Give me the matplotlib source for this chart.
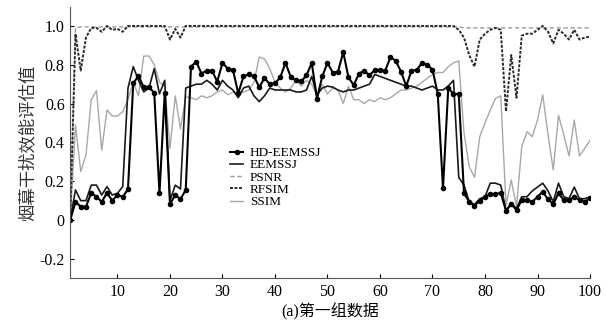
import numpy as np
import matplotlib.pyplot as plt

plt.rcParams['font.family'] = ['Liberation Serif', 'Noto Sans CJK SC']

# 横轴：样本序号 1..100
x = np.arange(1, 101)

hd_eemssj = [
    0.000, 0.094, 0.069, 0.069, 0.140, 0.120, 0.094, 0.140, 0.100, 0.129,
    0.120, 0.158, 0.705, 0.742, 0.684, 0.684, 0.656, 0.138, 0.656, 0.082,
    0.129, 0.108, 0.155, 0.790, 0.816, 0.755, 0.770, 0.770, 0.713, 0.810,
    0.780, 0.773, 0.653, 0.740, 0.750, 0.742, 0.684, 0.732, 0.700, 0.705,
    0.735, 0.810, 0.737, 0.720, 0.715, 0.745, 0.810, 0.625, 0.740, 0.810,
    0.760, 0.765, 0.865, 0.735, 0.695, 0.755, 0.770, 0.745, 0.773, 0.773,
    0.770, 0.840, 0.820, 0.765, 0.690, 0.770, 0.773, 0.810, 0.800, 0.775,
    0.650, 0.163, 0.680, 0.650, 0.650, 0.138, 0.094, 0.074, 0.100, 0.120,
    0.134, 0.134, 0.140, 0.048, 0.082, 0.052, 0.103, 0.103, 0.094, 0.120,
    0.146, 0.107, 0.082, 0.138, 0.103, 0.103, 0.120, 0.103, 0.094, 0.112,
]

eemssj = [
    0.000, 0.155, 0.100, 0.100, 0.180, 0.180, 0.129, 0.172, 0.129, 0.138,
    0.172, 0.680, 0.790, 0.720, 0.660, 0.680, 0.780, 0.650, 0.720, 0.100,
    0.180, 0.160, 0.680, 0.690, 0.700, 0.700, 0.720, 0.700, 0.670, 0.720,
    0.690, 0.670, 0.630, 0.680, 0.690, 0.640, 0.610, 0.640, 0.680, 0.670,
    0.670, 0.670, 0.670, 0.660, 0.660, 0.670, 0.740, 0.645, 0.680, 0.690,
    0.685, 0.670, 0.660, 0.670, 0.670, 0.680, 0.690, 0.700, 0.750, 0.740,
    0.730, 0.720, 0.710, 0.700, 0.690, 0.690, 0.680, 0.670, 0.680, 0.690,
    0.670, 0.670, 0.690, 0.720, 0.220, 0.180, 0.094, 0.080, 0.110, 0.120,
    0.190, 0.190, 0.180, 0.050, 0.085, 0.060, 0.120, 0.120, 0.150, 0.170,
    0.190, 0.150, 0.094, 0.190, 0.120, 0.110, 0.170, 0.110, 0.110, 0.120,
]

psnr = [0.0, 0.99] + [0.995] * 73 + [0.99] * 25

rfsim = [
    0.000, 0.960, 0.770, 0.940, 0.990, 0.990, 0.970, 1.000, 0.980, 0.985,
    0.970, 1.000, 1.000, 1.000, 1.000, 1.000, 1.000, 1.000, 1.000, 0.930,
    0.985, 0.940, 1.000, 1.000, 1.000, 1.000, 1.000, 1.000, 1.000, 1.000,
    1.000, 1.000, 1.000, 1.000, 1.000, 1.000, 1.000, 1.000, 1.000, 1.000,
    1.000, 1.000, 1.000, 1.000, 1.000, 1.000, 1.000, 1.000, 1.000, 1.000,
    1.000, 1.000, 1.000, 1.000, 1.000, 1.000, 1.000, 1.000, 1.000, 1.000,
    1.000, 1.000, 1.000, 1.000, 1.000, 1.000, 1.000, 1.000, 1.000, 1.000,
    1.000, 1.000, 1.000, 1.000, 0.980, 0.940, 0.850, 0.790, 0.930, 0.960,
    0.980, 0.990, 0.980, 0.560, 0.850, 0.630, 0.950, 0.960, 0.960, 0.980,
    1.000, 0.970, 0.910, 0.980, 0.960, 0.930, 0.980, 0.930, 0.940, 0.945,
]

ssim = [
    0.000, 0.490, 0.250, 0.335, 0.620, 0.667, 0.360, 0.567, 0.536, 0.536,
    0.558, 0.620, 0.710, 0.640, 0.845, 0.845, 0.800, 0.710, 0.690, 0.370,
    0.640, 0.470, 0.635, 0.630, 0.620, 0.640, 0.630, 0.640, 0.660, 0.670,
    0.645, 0.660, 0.650, 0.660, 0.670, 0.710, 0.840, 0.830, 0.780, 0.710,
    0.680, 0.660, 0.680, 0.720, 0.690, 0.720, 0.700, 0.640, 0.700, 0.650,
    0.680, 0.670, 0.600, 0.690, 0.620, 0.620, 0.600, 0.620, 0.610, 0.630,
    0.620, 0.630, 0.650, 0.670, 0.670, 0.680, 0.690, 0.710, 0.730, 0.750,
    0.760, 0.760, 0.790, 0.810, 0.820, 0.450, 0.275, 0.220, 0.430, 0.500,
    0.567, 0.627, 0.640, 0.077, 0.206, 0.070, 0.378, 0.455, 0.430, 0.515,
    0.645, 0.440, 0.258, 0.540, 0.440, 0.330, 0.515, 0.330, 0.370, 0.410,
]

yticks = [-0.2, 0, 0.2, 0.4, 0.6, 0.8, 1.0]
ytick_labels = ['-0.2', '0', '0.2', '0.4', '0.6', '0.8', '1.0']
xticks = [10, 20, 30, 40, 50, 60, 70, 80, 90, 100]

fig, ax = plt.subplots(figsize=(6.07, 3.27), dpi=100)
fig.subplots_adjust(left=0.1157, right=0.972, bottom=0.149, top=0.98)

l_ssim, = ax.plot(x, ssim, color='#a8a8a8', lw=1.0, label='SSIM')
l_psnr, = ax.plot(x, psnr, color='#9a9a9a', lw=1.0, ls=(0, (3, 2)), label='PSNR')
l_rf, = ax.plot(x, rfsim, color='#2a2a2a', lw=1.4, ls=(0, (1.5, 0.8)), label='RFSIM')
l_ee, = ax.plot(x, eemssj, color='#1a1a1a', lw=1.2, label='EEMSSJ')
l_hd, = ax.plot(x, hd_eemssj, color='black', lw=1.5, marker='o', ms=3.0,
                label='HD-EEMSSJ')

ax.set_xlim(1, 100)
ax.set_ylim(-0.3, 1.1)
ax.set_xticks(xticks)
ax.set_yticks(yticks)
ax.set_yticklabels(ytick_labels)
ax.tick_params(direction='in', length=3, labelsize=11.5, pad=4)
for s in ['top', 'right']:
    ax.spines[s].set_visible(False)
ax.spines['left'].set_color('#555555')
ax.spines['bottom'].set_color('#555555')

ax.set_ylabel('烟幕干扰效能评估值', family=['Noto Sans CJK SC'], fontsize=12.5,
              labelpad=2, color='#333333')
ax.set_xlabel('(a)第一组数据', fontsize=11.5, labelpad=2)

ax.legend(handles=[l_hd, l_ee, l_psnr, l_rf, l_ssim],
          loc='upper left', bbox_to_anchor=(230 / 607, 1 - 147 / 327),
          bbox_transform=fig.transFigure, frameon=False, fontsize=9.5,
          handlelength=1.0, handletextpad=0.5, labelspacing=0.0,
          borderpad=0, borderaxespad=0)

fig.savefig('out.png', dpi=100)
